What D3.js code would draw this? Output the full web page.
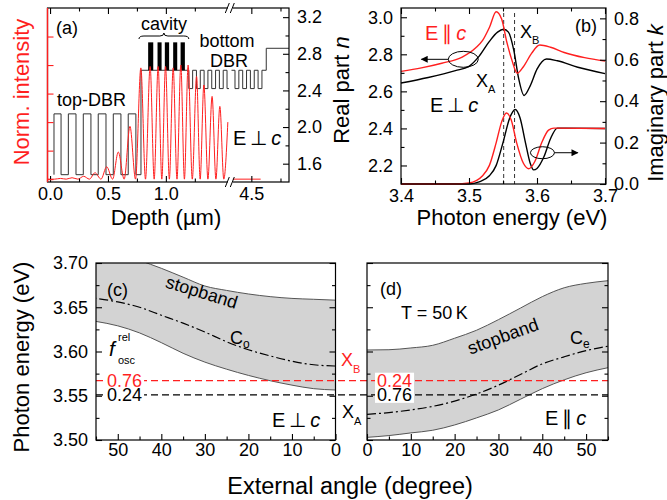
<!DOCTYPE html>
<meta charset="utf-8">
<style>
body { margin: 0; background: #fff; }
svg { font-family: "Liberation Sans", Arial, sans-serif; }
.frame { fill: none; stroke: #000; stroke-width: 1.2px; }
.axis path.domain { display: none; }
.axis line { stroke: #000; stroke-width: 1.1px; }
.axis text { font-size: 18px; font-family: "Liberation Sans", Arial, sans-serif; fill: #000; }
.title { font-size: 22px; }
.note { font-size: 18px; }
</style>
<body>
<script src="https://d3js.org/d3.v7.min.js"></script>
<script>

var RED = "#ff1f1f";

// ---------- (a) layer structure and field intensity ----------
var depthTicks = [0, 0.5, 1.0, 4.5];
var depthMinor = [0.25, 0.75, 1.25, 4.75];
var nTicksA = [1.6, 2.0, 2.4, 2.8, 3.2];
var nMinorA = [1.8, 2.2, 2.6, 3.0];
var intTicks = [0, 0.2, 0.4, 0.6, 0.8, 1.0];

// top-DBR + cavity + bottom-DBR (before the axis break)
var layerDepth = [0.034, 0.034, 0.095, 0.158, 0.224, 0.287, 0.353, 0.416, 0.483, 0.546, 0.612, 0.675, 0.741,
                  0.785, 1.198, 1.231, 1.264, 1.297, 1.330, 1.363, 1.396, 1.429, 1.462, 1.495, 1.528, 1.545];
var layerN     = [1.48, 2.144, 1.48, 2.144, 1.48, 2.144, 1.48, 2.144, 1.48, 2.144, 1.48, 2.144, 1.48,
                  2.62, 2.42, 2.62, 2.42, 2.62, 2.42, 2.62, 2.42, 2.62, 2.42, 2.62, 2.42, 2.42];
// bottom-DBR end and substrate (after the break)
var layerDepth2 = [4.33, 4.36, 4.393, 4.426, 4.459, 4.492, 4.525, 4.558, 4.591, 4.628, 4.823];
var layerN2     = [2.62, 2.42, 2.62, 2.42, 2.62, 2.42, 2.62, 2.42, 2.62, 2.86, 2.86];

var qwStart = [0.847, 0.928, 0.991, 1.063, 1.127];
var qwEnd   = [0.891, 0.963, 1.028, 1.098, 1.164];
var qwLow = 2.62, qwHigh = 2.925;

var intDepth = [-0.02, 0.04, 0.09, 0.14, 0.19, 0.24, 0.29, 0.34, 0.388, 0.44, 0.489, 0.54, 0.589, 0.64, 0.690, 0.738,
                0.784, 0.824, 0.864, 0.899, 0.933, 0.965, 0.997, 1.03, 1.063, 1.096, 1.129, 1.16, 1.192, 1.228,
                1.265, 1.296, 1.328, 1.363, 1.399, 1.432, 1.466, 1.50, 1.535];
var intValue = [0, 0, 0.005, 0, 0.01, 0, 0.02, 0, 0.045, 0, 0.087, 0, 0.19, 0, 0.37, 0,
                0.78, 0, 0.79, 0, 0.79, 0, 0.79, 0, 0.78, 0, 0.80, 0, 0.80, 0,
                0.72, 0, 0.66, 0, 0.58, 0, 0.51, 0, 0.40];
var intDepth2 = [4.33, 4.58];
var intValue2 = [0, 0];

// ---------- (b) optical constants ----------
var eTicks = [3.4, 3.5, 3.6, 3.7];
var eMinor = [3.45, 3.55, 3.65];
var nTicksB = [2.2, 2.4, 2.6, 2.8, 3.0];
var nMinorB = [2.3, 2.5, 2.7, 2.9];
var kTicks = [0, 0.2, 0.4, 0.6, 0.8];
var kMinor = [0.1, 0.3, 0.5, 0.7];

var eParN = [3.40, 3.43, 3.46, 3.49, 3.51, 3.52, 3.53, 3.54, 3.548, 3.556, 3.563, 3.571, 3.580, 3.592, 3.604, 3.62, 3.64, 3.67, 3.70];
var nPar  = [2.708, 2.727, 2.752, 2.785, 2.835, 2.875, 2.945, 3.030, 2.99, 2.86, 2.77, 2.698, 2.733, 2.805, 2.850, 2.838, 2.810, 2.782, 2.764];
var ePerN = [3.40, 3.44, 3.48, 3.50, 3.515, 3.53, 3.542, 3.551, 3.558, 3.566, 3.573, 3.581, 3.590, 3.60, 3.614, 3.63, 3.66, 3.70];
var nPer  = [2.645, 2.675, 2.712, 2.735, 2.79, 2.87, 2.92, 2.935, 2.92, 2.82, 2.67, 2.578, 2.63, 2.72, 2.775, 2.765, 2.73, 2.696];
var eParK = [3.40, 3.48, 3.50, 3.52, 3.53, 3.54, 3.548, 3.555, 3.562, 3.57, 3.58, 3.588, 3.597, 3.607, 3.617, 3.625, 3.70];
var kPar  = [0, 0, 0.005, 0.04, 0.09, 0.20, 0.30, 0.343, 0.31, 0.20, 0.10, 0.074, 0.11, 0.20, 0.26, 0.27, 0.268];
var ePerK = [3.40, 3.50, 3.515, 3.53, 3.54, 3.55, 3.56, 3.568, 3.575, 3.583, 3.59, 3.595, 3.60, 3.61, 3.62, 3.63, 3.70];
var kPer  = [0, 0, 0.01, 0.04, 0.09, 0.20, 0.32, 0.36, 0.32, 0.20, 0.10, 0.068, 0.075, 0.13, 0.22, 0.27, 0.268];
var excitonA = 3.551, excitonB = 3.567;

// ---------- (c), (d) stopband vs angle ----------
var angle = [0, 5, 10, 15, 20, 25, 30, 35, 40, 45, 50, 55];
var cUpper = [3.658, 3.659, 3.660, 3.662, 3.665, 3.669, 3.674, 3.684, 3.694, 3.703, 3.712, 3.718];
var cLower = [3.5565, 3.558, 3.562, 3.567, 3.573, 3.580, 3.588, 3.598, 3.610, 3.621, 3.629, 3.634];
var cMode  = [3.5836, 3.585, 3.589, 3.595, 3.602, 3.611, 3.622, 3.632, 3.641, 3.650, 3.656, 3.660];
var dUpper = [3.6017, 3.602, 3.604, 3.607, 3.615, 3.624, 3.636, 3.649, 3.662, 3.672, 3.677, 3.680];
var dLower = [3.503, 3.505, 3.508, 3.511, 3.517, 3.525, 3.534, 3.546, 3.558, 3.568, 3.576, 3.5817];
var dMode  = [3.529, 3.531, 3.534, 3.538, 3.544, 3.552, 3.562, 3.574, 3.586, 3.594, 3.601, 3.606];
var angleTicks = [0, 10, 20, 30, 40, 50];
var angleMinor = [5, 15, 25, 35, 45, 55];
var eTicksCD = [3.50, 3.55, 3.60, 3.65, 3.70];
var eMinorCD = [3.525, 3.575, 3.625, 3.675];

// ---------- page ----------
var svg = d3.select("body").append("svg")
    .attr("width", 667)
    .attr("height", 500);

var defs = svg.append("defs");
defs.append("marker").attr("id", "arr")
    .attr("viewBox", "0 0 10 10").attr("refX", 9).attr("refY", 5)
    .attr("markerWidth", 9).attr("markerHeight", 7).attr("markerUnits", "userSpaceOnUse")
    .attr("orient", "auto")
  .append("path").attr("d", "M0,0L10,5L0,10z").attr("fill", "#000");

function ticks(g, axis, major, minor, fmt, pad) {
  g.append("g").attr("class", "axis")
      .call(axis.tickValues(major).tickSize(-6).tickPadding(pad || 5).tickFormat(fmt || ""));
  if (minor) g.append("g").attr("class", "axis")
      .call(axis.tickValues(minor).tickSize(-3.5).tickFormat(""));
}

// white box behind a label so the dashed lines stop at it
function knockout(g, x, y, txt, color) {
  var t = g.append("text").attr("class", "note").attr("x", x).attr("y", y)
      .attr("fill", color).text(txt);
  var bb = t.node().getBBox();
  g.insert("rect", function() { return t.node(); })
      .attr("x", bb.x - 2).attr("y", bb.y + 2)
      .attr("width", bb.width + 4).attr("height", bb.height - 4)
      .attr("fill", "#fff");
  return t;
}

// ================= panel (a) =================
var aBox = {l: 47.5, r: 289, t: 8, b: 182};
var xA = d3.scaleLinear().domain([-0.022, 1.545, 4.33, 4.823]).range([aBox.l, 229, 231.5, aBox.r]);
var yI = d3.scaleLinear().domain([-0.02, 1.2]).range([aBox.b, aBox.t]);
var yNa = d3.scaleLinear().domain([1.4, 3.3]).range([aBox.b, aBox.t]);

var gA = svg.append("g");

var stepA = d3.line().curve(d3.curveStepAfter)
    .x(function(d) { return xA(d[0]); })
    .y(function(d) { return yNa(d[1]); });

gA.append("path")
    .datum(d3.zip(layerDepth, layerN))
    .attr("fill", "none").attr("stroke", "#333").attr("stroke-width", 1)
    .attr("d", stepA);
gA.append("path")
    .datum(d3.zip(layerDepth2, layerN2))
    .attr("fill", "none").attr("stroke", "#333").attr("stroke-width", 1)
    .attr("d", stepA);

gA.selectAll("rect.qw")
    .data(d3.zip(qwStart, qwEnd))
  .enter().append("rect")
    .attr("x", function(d) { return xA(d[0]); })
    .attr("width", function(d) { return xA(d[1]) - xA(d[0]); })
    .attr("y", yNa(qwHigh))
    .attr("height", yNa(qwLow) - yNa(qwHigh))
    .attr("fill", "#000");

var intLine = d3.line().curve(d3.curveMonotoneX)
    .x(function(d) { return xA(d[0]); })
    .y(function(d) { return yI(d[1]); });

gA.append("path")
    .datum(d3.zip(intDepth, intValue))
    .attr("fill", "none").attr("stroke", RED).attr("stroke-width", 1)
    .attr("d", intLine);
gA.append("path")
    .datum(d3.zip(intDepth2, intValue2))
    .attr("fill", "none").attr("stroke", RED).attr("stroke-width", 1)
    .attr("d", intLine);

gA.append("rect").attr("class", "frame")
    .attr("x", aBox.l).attr("y", aBox.t)
    .attr("width", aBox.r - aBox.l).attr("height", aBox.b - aBox.t);

ticks(gA.append("g").attr("transform", "translate(0," + aBox.b + ")"),
      d3.axisBottom(xA), depthTicks, depthMinor, d3.format(".1f"));
ticks(gA.append("g").attr("transform", "translate(0," + aBox.t + ")"),
      d3.axisTop(xA), depthTicks, depthMinor);
ticks(gA.append("g").attr("transform", "translate(" + aBox.r + ",0)"),
      d3.axisRight(yNa), nTicksA, nMinorA, d3.format(".1f"), 8);
var leftA = gA.append("g").attr("transform", "translate(" + aBox.l + ",0)");
ticks(leftA, d3.axisLeft(yI), intTicks, null);
leftA.selectAll("line").style("stroke", RED);
gA.append("line")
    .attr("x1", aBox.l).attr("x2", aBox.l).attr("y1", aBox.t).attr("y2", aBox.b)
    .attr("stroke", RED).attr("stroke-width", 1.4);

// axis break marks
var xBreak = xA(3.0);
[aBox.t, aBox.b].forEach(function(y) {
  gA.append("rect").attr("x", xBreak - 2.5).attr("y", y - 5).attr("width", 5).attr("height", 10).attr("fill", "#fff");
  [-3, 2].forEach(function(dx) {
    gA.append("line")
        .attr("x1", xBreak + dx - 2).attr("y1", y + 5)
        .attr("x2", xBreak + dx + 2).attr("y2", y - 5)
        .attr("stroke", "#000").attr("stroke-width", 1);
  });
});

// brace over the cavity
var bx0 = xA(layerDepth[13]) - 2, bx1 = xA(layerDepth[14]), by = 36, bm = (bx0 + bx1) / 2;
gA.append("path")
    .attr("d", "M" + bx0 + "," + (by + 3) + "Q" + bx0 + "," + by + " " + (bx0 + 5) + "," + by +
               "L" + (bm - 4) + "," + by + "Q" + bm + "," + by + " " + bm + "," + (by - 3) +
               "Q" + bm + "," + by + " " + (bm + 4) + "," + by +
               "L" + (bx1 - 5) + "," + by + "Q" + bx1 + "," + by + " " + bx1 + "," + (by + 3))
    .attr("fill", "none").attr("stroke", "#000").attr("stroke-width", 1);

gA.append("text").attr("class", "note").attr("x", bm).attr("y", 30).attr("text-anchor", "middle").text("cavity");
gA.append("text").attr("class", "note").attr("x", 56).attr("y", 34).text("(a)");
gA.append("text").attr("class", "note").attr("x", 227).attr("y", 47).attr("text-anchor", "middle").text("bottom");
gA.append("text").attr("class", "note").attr("x", 229).attr("y", 67).attr("text-anchor", "middle").text("DBR");
gA.append("text").attr("class", "note").attr("x", 57).attr("y", 106).text("top-DBR");
var ePerpA = gA.append("text").attr("class", "note").attr("x", 233).attr("y", 145).style("font-size", "20px");
ePerpA.append("tspan").text("E\u2009\u22A5\u2009");
ePerpA.append("tspan").attr("font-style", "italic").text("c");

gA.append("text").attr("class", "title").attr("fill", RED)
    .attr("transform", "translate(29,92)rotate(-90)").attr("text-anchor", "middle")
    .text("Norm. intensity");
gA.append("text").attr("class", "title")
    .attr("x", 166).attr("y", 225).attr("text-anchor", "middle")
    .text("Depth (\u00B5m)");

// ================= panel (b) =================
var bBox = {l: 401, r: 606, t: 8, b: 184};
var xB = d3.scaleLinear().domain([3.4, 3.7]).range([401, 605]);
var yNb = d3.scaleLinear().domain([2.1, 3.05]).range([bBox.b, bBox.t]);
var yK = d3.scaleLinear().domain([0, 0.85]).range([bBox.b, bBox.t]);

var gB = svg.append("g");

[excitonA, excitonB].forEach(function(e) {
  gB.append("line")
      .attr("x1", xB(e)).attr("x2", xB(e)).attr("y1", bBox.t + 5).attr("y2", bBox.b)
      .attr("stroke", "#333").attr("stroke-width", 1).attr("stroke-dasharray", "4,3");
});

var lineN = d3.line().curve(d3.curveMonotoneX)
    .x(function(d) { return xB(d[0]); })
    .y(function(d) { return yNb(d[1]); });
var lineK = d3.line().curve(d3.curveMonotoneX)
    .x(function(d) { return xB(d[0]); })
    .y(function(d) { return yK(d[1]); });

gB.append("path").datum(d3.zip(ePerN, nPer)).attr("fill", "none").attr("stroke", "#000").attr("stroke-width", 1.4).attr("d", lineN);
gB.append("path").datum(d3.zip(eParN, nPar)).attr("fill", "none").attr("stroke", RED).attr("stroke-width", 1.4).attr("d", lineN);
gB.append("path").datum(d3.zip(ePerK, kPer)).attr("fill", "none").attr("stroke", "#000").attr("stroke-width", 1.4).attr("d", lineK);
gB.append("path").datum(d3.zip(eParK, kPar)).attr("fill", "none").attr("stroke", RED).attr("stroke-width", 1.4).attr("d", lineK);

// ellipses with arrows pointing to the relevant axis
gB.append("ellipse").attr("cx", xB(3.4916)).attr("cy", yNb(2.773)).attr("rx", 15).attr("ry", 8)
    .attr("fill", "none").attr("stroke", "#000").attr("stroke-width", 1);
gB.append("line").attr("x1", xB(3.4916) - 15).attr("y1", yNb(2.773)).attr("x2", xB(3.430)).attr("y2", yNb(2.773))
    .attr("stroke", "#000").attr("stroke-width", 1).attr("marker-end", "url(#arr)");
gB.append("ellipse").attr("cx", xB(3.608)).attr("cy", yK(0.151)).attr("rx", 12).attr("ry", 6)
    .attr("fill", "none").attr("stroke", "#000").attr("stroke-width", 1);
gB.append("line").attr("x1", xB(3.608) + 12).attr("y1", yK(0.151)).attr("x2", xB(3.660)).attr("y2", yK(0.151))
    .attr("stroke", "#000").attr("stroke-width", 1).attr("marker-end", "url(#arr)");

gB.append("rect").attr("class", "frame")
    .attr("x", bBox.l).attr("y", bBox.t)
    .attr("width", bBox.r - bBox.l).attr("height", bBox.b - bBox.t);

ticks(gB.append("g").attr("transform", "translate(0," + bBox.b + ")"),
      d3.axisBottom(xB), eTicks, eMinor, d3.format(".1f"));
ticks(gB.append("g").attr("transform", "translate(0," + bBox.t + ")"),
      d3.axisTop(xB), eTicks, eMinor);
ticks(gB.append("g").attr("transform", "translate(" + bBox.l + ",0)"),
      d3.axisLeft(yNb), nTicksB, nMinorB, d3.format(".1f"), 8);
ticks(gB.append("g").attr("transform", "translate(" + bBox.r + ",0)"),
      d3.axisRight(yK), kTicks, kMinor, d3.format(".1f"), 8);

var ePar = gB.append("text").attr("class", "note").attr("x", 425).attr("y", 40).attr("fill", RED).style("font-size", "20px");
ePar.append("tspan").text("E\u2009\u2225\u2009");
ePar.append("tspan").attr("font-style", "italic").text("c");
var ePerp = gB.append("text").attr("class", "note").attr("x", 430).attr("y", 112).style("font-size", "20px");
ePerp.append("tspan").text("E\u2009\u22A5\u2009");
ePerp.append("tspan").attr("font-style", "italic").text("c");

var xa = gB.append("text").attr("class", "note").attr("x", 476).attr("y", 87);
xa.append("tspan").text("X");
xa.append("tspan").attr("dy", 6).style("font-size", "11px").text("A");
var xb = gB.append("text").attr("class", "note").attr("x", 520).attr("y", 38);
xb.append("tspan").text("X");
xb.append("tspan").attr("dy", 6).style("font-size", "11px").text("B");
gB.append("text").attr("class", "note").attr("x", 575).attr("y", 32).text("(b)");

var rp = gB.append("text").attr("class", "title")
    .attr("transform", "translate(349,90)rotate(-90)").attr("text-anchor", "middle");
rp.append("tspan").text("Real part ");
rp.append("tspan").attr("font-style", "italic").text("n");
var ip = gB.append("text").attr("class", "title")
    .attr("transform", "translate(663,103)rotate(-90)").attr("text-anchor", "middle");
ip.append("tspan").text("Imaginary part ");
ip.append("tspan").attr("font-style", "italic").text("k");
gB.append("text").attr("class", "title")
    .attr("x", 512).attr("y", 225).attr("text-anchor", "middle")
    .text("Photon energy (eV)");

// ================= panels (c), (d) =================
var cBox = {l: 96, r: 335.5, t: 263, b: 440};
var dBox = {l: 367, r: 608, t: 263, b: 440};
var yE = d3.scaleLinear().domain([3.5, 3.7]).range([440, 263]);
var xC = d3.scaleLinear().domain([55, 0]).range([cBox.l, cBox.r]);
var xD = d3.scaleLinear().domain([0, 55]).range([dBox.l, dBox.r]);

function bandPanel(box, x, upper, lower, mode, id) {
  var g = svg.append("g");
  defs.append("clipPath").attr("id", id)
    .append("rect").attr("x", box.l).attr("y", box.t).attr("width", box.r - box.l).attr("height", box.b - box.t);
  var pts = angle.map(function(a, i) { return {a: a, u: upper[i], l: lower[i], m: mode[i]}; });
  var gc = g.append("g").attr("clip-path", "url(#" + id + ")");
  gc.append("path").datum(pts)
      .attr("fill", "#d3d3d3")
      .attr("d", d3.area().curve(d3.curveMonotoneX)
          .x(function(d) { return x(d.a); })
          .y0(function(d) { return yE(d.l); })
          .y1(function(d) { return yE(d.u); }));
  ["u", "l"].forEach(function(k) {
    gc.append("path").datum(pts)
        .attr("fill", "none").attr("stroke", "#555").attr("stroke-width", 1)
        .attr("d", d3.line().curve(d3.curveMonotoneX)
            .x(function(d) { return x(d.a); })
            .y(function(d) { return yE(d[k]); }));
  });
  gc.append("path").datum(pts)
      .attr("fill", "none").attr("stroke", "#000").attr("stroke-width", 1.2)
      .attr("stroke-dasharray", "9,3,2,3")
      .attr("d", d3.line().curve(d3.curveMonotoneX)
          .x(function(d) { return x(d.a); })
          .y(function(d) { return yE(d.m); }));
}

bandPanel(cBox, xC, cUpper, cLower, cMode, "clipC");
bandPanel(dBox, xD, dUpper, dLower, dMode, "clipD");

// exciton energies across both panels
svg.append("line").attr("x1", cBox.l).attr("x2", dBox.r).attr("y1", yE(excitonB)).attr("y2", yE(excitonB))
    .attr("stroke", RED).attr("stroke-width", 1.2).attr("stroke-dasharray", "7,4");
svg.append("line").attr("x1", cBox.l).attr("x2", dBox.r).attr("y1", yE(excitonA)).attr("y2", yE(excitonA))
    .attr("stroke", "#000").attr("stroke-width", 1.2).attr("stroke-dasharray", "7,4");

var gC = svg.append("g"), gD = svg.append("g");

[[gC, cBox], [gD, dBox]].forEach(function(p) {
  var g = p[0], box = p[1];
  g.append("rect").attr("class", "frame")
      .attr("x", box.l).attr("y", box.t)
      .attr("width", box.r - box.l).attr("height", box.b - box.t);
  ticks(g.append("g").attr("transform", "translate(" + box.l + ",0)"),
        d3.axisLeft(yE), eTicksCD, eMinorCD, box === cBox ? d3.format(".2f") : "", 8);
  ticks(g.append("g").attr("transform", "translate(" + box.r + ",0)"),
        d3.axisRight(yE), eTicksCD, eMinorCD);
});
ticks(gC.append("g").attr("transform", "translate(0," + cBox.b + ")"),
      d3.axisBottom(xC), angleTicks, angleMinor, d3.format("d"), 3);
ticks(gD.append("g").attr("transform", "translate(0," + dBox.b + ")"),
      d3.axisBottom(xD), angleTicks, angleMinor, d3.format("d"), 3);

// labels (c)
gC.append("text").attr("class", "note").attr("x", 107).attr("y", 296).text("(c)");
gC.append("text").attr("class", "note").attr("transform", "translate(200,298)rotate(17)")
    .attr("text-anchor", "middle").text("stopband");
var co = gC.append("text").attr("class", "note").attr("x", 230).attr("y", 344);
co.append("tspan").text("C");
co.append("tspan").attr("dy", 4).style("font-size", "12px").text("o");
// f_osc^rel as three small labels
gC.append("text").attr("x", 109).attr("y", 356).style("font-size", "21px").attr("font-style", "italic").text("f");
gC.append("text").attr("x", 118).attr("y", 341).style("font-size", "11px").text("rel");
gC.append("text").attr("x", 118).attr("y", 364).style("font-size", "11px").text("osc");
knockout(gC, 107, yE(excitonB) + 6, "0.76", RED);
knockout(gC, 107, yE(excitonA) + 6, "0.24", "#000");
var ec = gC.append("text").attr("class", "note").attr("x", 272).attr("y", 427).style("font-size", "20px");
ec.append("tspan").text("E\u2009\u22A5\u2009");
ec.append("tspan").attr("font-style", "italic").text("c");

// labels (d)
gD.append("text").attr("class", "note").attr("x", 380).attr("y", 295).text("(d)");
gD.append("text").attr("class", "note").attr("x", 401).attr("y", 319).text("T = 50\u2009K");
gD.append("text").attr("class", "note").attr("transform", "translate(505,342)rotate(-20)")
    .attr("text-anchor", "middle").text("stopband");
var ce = gD.append("text").attr("class", "note").attr("x", 570).attr("y", 344);
ce.append("tspan").text("C");
ce.append("tspan").attr("dy", 4).style("font-size", "12px").text("e");
knockout(gD, 377, yE(excitonB) + 6, "0.24", RED);
knockout(gD, 377, yE(excitonA) + 6, "0.76", "#000");
var ed = gD.append("text").attr("class", "note").attr("x", 545).attr("y", 425).style("font-size", "20px");
ed.append("tspan").text("E\u2009\u2225\u2009");
ed.append("tspan").attr("font-style", "italic").text("c");

// exciton labels in the gap
var xbl = svg.append("text").attr("class", "note").attr("x", 341).attr("y", 366).attr("fill", RED);
xbl.append("tspan").text("X");
xbl.append("tspan").attr("dy", 7).style("font-size", "11px").text("B");
var xal = svg.append("text").attr("class", "note").attr("x", 342).attr("y", 418);
xal.append("tspan").text("X");
xal.append("tspan").attr("dy", 7).style("font-size", "11px").text("A");

svg.append("text").attr("class", "title")
    .attr("transform", "translate(29,357)rotate(-90)").attr("text-anchor", "middle")
    .text("Photon energy (eV)");
svg.append("text").attr("class", "title").style("font-size", "23.5px")
    .attr("x", 350).attr("y", 494).attr("text-anchor", "middle")
    .text("External angle (degree)");

</script>
</body>
